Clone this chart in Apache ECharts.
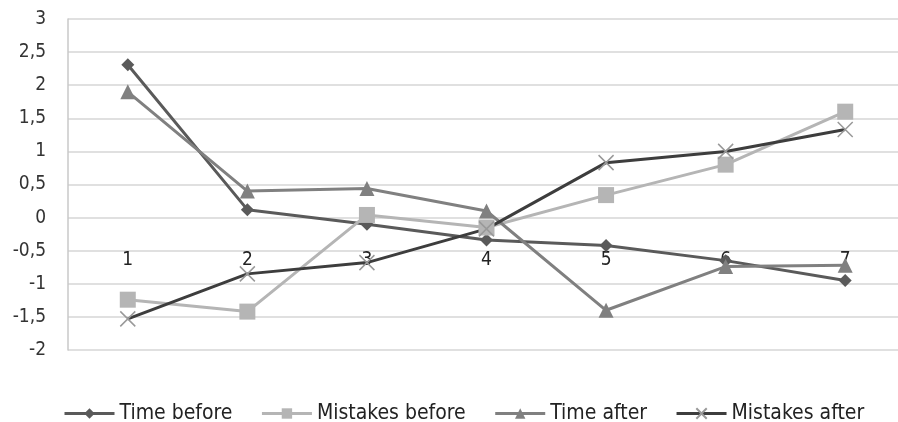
<!DOCTYPE html>
<html><head><meta charset="utf-8">
<script src="https://cdn.jsdelivr.net/npm/echarts@6/dist/echarts.min.js"></script>
<style>html,body{margin:0;padding:0;background:#fff;overflow:hidden}#c{width:905px;height:422px}</style>
</head><body><div id="c"></div>
<script>
const categories = ['1','2','3','4','5','6','7'];
const timeBefore = [2.31, 0.12, -0.1, -0.34, -0.42, -0.65, -0.95];
const mistakesBefore = [-1.24, -1.42, 0.04, -0.15, 0.34, 0.8, 1.6];
const timeAfter = [1.9, 0.4, 0.44, 0.1, -1.4, -0.74, -0.72];
const mistakesAfter = [-1.53, -0.85, -0.68, -0.17, 0.83, 1.0, 1.33];
const seriesNames = ['Time before','Mistakes before','Time after','Mistakes after'];

const font = "'Liberation Sans Narrow', 'DejaVu Sans Condensed', sans-serif";
const chart = echarts.init(document.getElementById('c'));
function mk(name, data, color, symbol, size, extra) {
  return Object.assign({
    name, type: 'line', data, symbol, symbolSize: size,
    lineStyle: {color, width: 3},
    itemStyle: {color},
    emphasis: {disabled: true},
    animation: false
  }, extra || {});
}
chart.setOption({
  animation: false,
  grid: {left: 68, right: 0, top: 19, bottom: 72, containLabel: false},
  xAxis: {
    type: 'category', data: categories, boundaryGap: true,
    position: 'bottom', offset: -132,
    axisLine: {show: false, onZero: false},
    axisTick: {show: false},
    axisLabel: {margin: 33, color: '#222', fontFamily: font, fontSize: 19},
    splitLine: {show: false}
  },
  yAxis: {
    type: 'value', min: -2, max: 3, interval: 0.5,
    axisLine: {show: true, lineStyle: {color: '#c8c8c8', width: 1.5}},
    axisTick: {show: false},
    axisLabel: {margin: 22, color: '#333', fontFamily: font, fontSize: 19,
      formatter: v => String(v).replace('.', ',')},
    splitLine: {lineStyle: {color: '#d6d6d6', width: 1.5}}
  },
  legend: {
    top: 398, left: 58, itemWidth: 50, itemHeight: 13, itemGap: 28,
    lineStyle: {width: 3},
    textStyle: {fontFamily: font, fontSize: 21, color: '#222'},
    data: seriesNames
  },
  series: [
    mk(seriesNames[0], timeBefore, '#5a5a5a', 'diamond', 13),
    mk(seriesNames[1], mistakesBefore, '#b5b5b5', 'rect', 16),
    mk(seriesNames[2], timeAfter, '#808080', 'triangle', 15),
    mk(seriesNames[3], mistakesAfter, '#3d3d3d', 'path://M0,0L10,10M10,0L0,10', 15,
      {itemStyle: {color: '#3d3d3d', borderColor: '#999', borderWidth: 1.5}})
  ]
});
</script></body></html>
